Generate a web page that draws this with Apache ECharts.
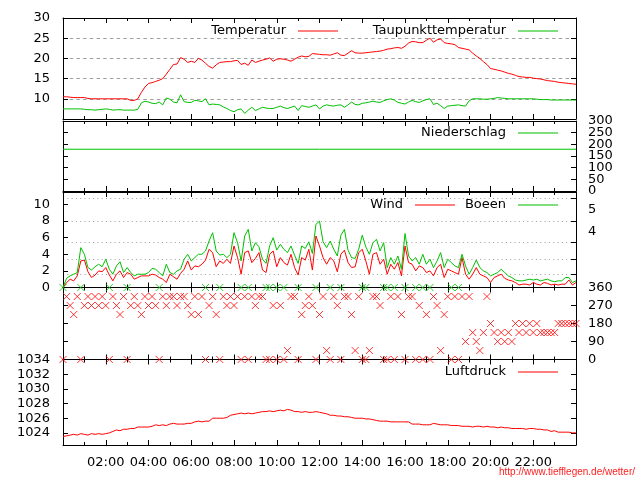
<!DOCTYPE html>
<html>
<head>
<meta charset="utf-8">
<script src="https://cdn.jsdelivr.net/npm/echarts@6/dist/echarts.min.js"></script>
<style>
html, body { margin: 0; padding: 0; background: #fff; }
#chart { width: 640px; height: 480px; }
</style>
</head>
<body>
<div id="chart"></div>
<script>
// one reading every 10 minutes, 00:00 .. 24:00
var stepMinutes = 10;
var timeTicks = [2, 4, 6, 8, 10, 12, 14, 16, 18, 20, 22];
var timeLabels = ['02:00', '04:00', '06:00', '08:00', '10:00', '12:00', '14:00', '16:00', '18:00', '20:00', '22:00'];

var temperatur = [
    10.5, 10.5, 10.4, 10.3, 10.3, 10.3, 10.3, 10.1, 10.0, 10.0,
    10.0, 10.0, 10.0, 10.0, 10.0, 10.0, 10.0, 10.0, 10.0, 9.6,
    9.6, 10.0, 11.6, 12.9, 13.8, 14.0, 14.3, 14.6, 15.0, 16.1,
    17.3, 18.5, 18.6, 20.2, 19.8, 19.0, 19.3, 19.0, 20.0, 19.6,
    18.8, 18.0, 17.6, 18.4, 19.0, 19.1, 19.2, 19.2, 19.4, 19.5,
    18.5, 18.8, 18.3, 19.6, 19.0, 19.3, 19.6, 19.8, 20.1, 19.3,
    19.8, 19.9, 19.8, 19.6, 19.3, 19.8, 20.3, 20.6, 20.4, 20.5,
    21.2, 21.1, 21.0, 20.9, 20.9, 20.8, 21.1, 21.4, 20.8, 20.7,
    21.3, 21.9, 21.4, 21.3, 21.3, 21.4, 21.5, 21.6, 21.7, 21.8,
    22.0, 22.3, 22.4, 22.6, 22.7, 22.5, 23.0, 23.8, 24.2, 24.1,
    23.9, 23.9, 24.5, 25.0, 24.0, 24.6, 24.8, 23.9, 23.7, 23.6,
    23.4, 22.7, 22.5, 22.3, 22.1, 21.3, 20.6, 20.0, 19.2, 18.5,
    17.5, 17.3, 17.1, 16.9, 16.6, 16.3, 16.1, 15.8, 15.5, 15.4,
    15.3, 15.3, 15.1, 15.0, 14.9, 14.7, 14.5, 14.4, 14.3, 14.1,
    14.0, 13.9, 13.8, 13.7, 13.6
];
var taupunkt = [
    7.5, 7.5, 7.5, 7.5, 7.5, 7.5, 7.4, 7.3, 7.3, 7.2,
    7.3, 7.4, 7.5, 7.4, 7.2, 7.3, 7.3, 7.2, 7.2, 7.2,
    7.2, 7.4, 9.0, 9.4, 9.2, 8.9, 8.8, 9.2, 8.5, 10.2,
    9.9, 9.2, 9.0, 11.0, 9.3, 9.1, 9.1, 9.6, 9.5, 9.3,
    10.0, 8.5, 8.7, 8.6, 8.5, 8.0, 7.6, 7.1, 6.8, 7.3,
    7.5, 6.4, 7.2, 7.9, 7.1, 7.5, 7.9, 7.7, 7.6, 7.6,
    7.9, 8.2, 7.8, 7.6, 7.9, 8.2, 7.1, 8.3, 8.1, 7.9,
    8.2, 8.5, 7.5, 8.2, 8.5, 8.3, 8.2, 8.4, 8.5, 7.9,
    8.5, 9.2, 8.6, 8.5, 8.9, 9.0, 9.2, 9.4, 9.2, 9.1,
    9.5, 9.8, 10.0, 9.7, 9.1, 8.9, 8.7, 9.2, 9.6, 9.3,
    9.1, 9.5, 9.8, 10.0, 8.6, 8.9, 8.3, 7.6, 8.2, 8.3,
    8.4, 8.5, 8.3, 8.2, 9.5, 10.0, 10.0, 10.0, 9.9, 9.9,
    10.0, 10.1, 10.3, 10.2, 10.1, 10.0, 10.0, 10.0, 10.0, 10.0,
    10.0, 10.0, 10.0, 9.9, 9.8, 9.8, 9.8, 9.7, 9.7, 9.7,
    9.7, 9.7, 9.7, 9.7, 9.7
];
var niederschlagHours = [0, 24];
var niederschlag = [179, 179];
var regenLabelsA = [0, 100, 200, 300];
var regenLabelsB = [50, 150, 250];

var wind = [
    0, 0.6, 1.0, 0.8, 1.4, 3.2, 3.3, 1.9, 1.2, 1.5,
    2.0, 1.9, 2.4, 1.5, 0.8, 1.6, 2.0, 1.2, 1.8, 1.6,
    1.0, 1.2, 1.4, 1.4, 1.4, 1.6, 1.5, 1.2, 1.0, 0.6,
    1.6, 1.3, 1.0, 1.7, 2.2, 3.2, 2.1, 2.6, 2.5, 2.8,
    3.3, 4.6, 4.2, 2.5, 3.2, 2.9, 3.4, 2.9, 5.0, 3.6,
    1.6, 4.2, 4.4, 3.0, 3.5, 4.2, 2.1, 1.8, 4.0, 4.4,
    2.5, 3.6, 3.0, 2.7, 4.0, 2.4, 1.5, 3.6, 3.3, 4.6,
    2.1, 6.2, 5.0, 3.6, 2.8, 3.6, 3.2, 1.9, 4.0, 4.5,
    3.0, 2.4, 2.5, 4.2, 4.6, 3.2, 1.6, 4.0, 4.2, 2.8,
    3.4, 1.6, 2.8, 2.2, 3.0, 1.4, 5.0, 3.0, 2.8, 2.0,
    2.6, 2.4, 1.8, 2.0, 1.4, 2.4, 2.8, 1.2, 2.2, 2.0,
    1.8, 1.6, 3.6, 1.6, 1.0, 1.6, 2.4, 1.6, 1.4, 1.2,
    0.6, 1.2, 1.4, 1.6, 1.1, 0.9, 0.8, 0.6, 0.3, 0.4,
    0.4, 0.3, 0.6, 0.4, 0.3, 0.6, 0.5, 0.3, 0.4, 0.3,
    0.4, 0.4, 0.9, 0.3, 0.6
];
var boeen = [
    0, 1.1, 1.4, 1.6, 1.8, 4.8, 4.0, 2.4, 2.1, 2.5,
    2.8, 2.5, 3.4, 2.2, 1.6, 2.6, 3.1, 1.8, 2.4, 1.8,
    1.4, 1.6, 1.6, 1.6, 1.8, 2.3, 2.2, 1.8, 1.4, 2.8,
    1.8, 1.6, 2.0, 2.2, 3.4, 4.0, 3.2, 3.6, 4.0, 4.0,
    4.4, 5.6, 6.6, 4.4, 3.9, 4.0, 3.6, 4.0, 6.6, 5.4,
    3.2, 6.2, 7.0, 4.4, 5.4, 4.9, 3.4, 2.9, 5.0, 6.0,
    4.5, 5.2, 4.6, 4.2, 5.0, 3.9, 2.9, 5.0, 4.7, 5.5,
    4.1, 7.6, 8.0, 5.5, 4.8, 5.6, 4.6, 3.8, 6.3, 7.0,
    4.5, 3.6, 3.5, 4.6, 6.3, 4.9, 4.0, 5.4, 5.8, 4.4,
    5.4, 2.4, 3.6, 2.8, 3.8, 2.2, 6.5, 3.8, 3.2, 3.6,
    2.8, 4.0, 2.8, 3.4, 2.4, 3.2, 4.2, 2.4, 3.4, 3.0,
    2.6, 2.4, 4.0, 2.6, 1.6, 2.4, 3.3, 2.4, 2.0, 1.8,
    1.4, 1.6, 1.8, 2.2, 1.8, 1.4, 1.2, 0.9, 0.8, 0.8,
    0.9, 1.0, 0.9, 1.0, 0.8, 0.9, 1.0, 0.8, 0.7, 0.8,
    0.8, 1.2, 1.2, 0.6, 0.8
];
// Beaufort limits (m/s) for the right wind axis
var beaufortLimits = [1.6, 3.4, 5.5, 8.0, 10.8];
var beaufortLabelPos = [6.7, 9.35];
var beaufortLabels = ['4', '5'];

// wind direction in degrees (north drawn at 0)
var windRichtung = [
    0, 315, 270, 225, 315, 0, 270, 315, 270, 315,
    270, 315, 270, 0, 315, 270, 225, 315, 0, 270,
    315, 270, 225, 315, 270, 315, 270, 0, 315, 270,
    315, 315, 270, 315, 315, 270, 225, 315, 225, 315,
    0, 270, 315, 225, 0, 315, 270, 315, 270, 315,
    0, 315, 0, 315, 270, 315, 315, 0, 0, 270,
    0, 270, 0, 45, 315, 315, 0, 225, 270, 315,
    270, 0, 225, 315, 45, 0, 315, 270, 0, 315,
    315, 225, 45, 315, 0, 0, 45, 315, 315, 270,
    0, 0, 315, 0, 315, 225, 0, 315, 315, 0,
    270, 0, 225, 0, 315, 270, 45, 225, 315, 0,
    315, 0, 315, 90, 315, 135, 90, 45, 135, 315,
    180, 135, 90, 135, 90, 135, 90, 180, 135, 180,
    135, 180, 135, 180, 135, 135, 135, 135, 135, 180,
    180, 180, 180, 180, 180
];
// gust direction where it is north (drawn at 360); other gust directions lie under the wind marks
var boeenNord = [
    360, null, null, null, null, 360, null, null, null, null,
    null, null, null, 360, null, null, null, null, 360, null,
    null, null, null, null, null, null, null, 360, null, null,
    null, null, null, null, null, null, null, null, null, null,
    360, null, null, null, 360, null, null, null, null, null,
    360, null, 360, null, null, null, null, 360, 360, null,
    360, null, 360, null, null, null, 360, null, null, null,
    null, 360, null, null, null, 360, null, null, 360, null,
    null, null, null, null, 360, 360, null, null, null, null,
    360, 360, null, 360, null, null, 360, null, null, 360,
    null, 360, null, 360, null, null, null, null, null, 360,
    null, 360, null, null, null, null, null, null, null, null,
    null, null, null, null, null, null, null, null, null, null,
    null, null, null, null, null, null, null, null, null, null,
    null, null, null, null, null
];

var luftdruck = [
    1023.5, 1023.6, 1023.7, 1023.8, 1023.7, 1023.9, 1023.8, 1023.7, 1023.9, 1023.8,
    1023.9, 1023.8, 1023.9, 1024.0, 1024.2, 1024.4, 1024.3, 1024.5, 1024.5, 1024.6,
    1024.6, 1024.8, 1024.8, 1024.8, 1024.8, 1024.9, 1025.1, 1025.0, 1025.1, 1025.0,
    1025.2, 1025.3, 1025.2, 1025.2, 1025.2, 1025.3, 1025.3, 1025.5, 1025.6, 1025.5,
    1025.6, 1025.6, 1026.0, 1026.0, 1026.0, 1026.0, 1026.1, 1026.4, 1026.5, 1026.6,
    1026.7, 1026.6, 1026.7, 1026.6, 1026.7, 1026.8, 1026.9, 1026.9, 1027.0, 1026.9,
    1027.0, 1027.1, 1027.0, 1027.2, 1027.1, 1026.9, 1026.9, 1026.8, 1026.9, 1026.8,
    1026.8, 1026.9, 1026.8, 1026.7, 1026.6, 1026.4, 1026.4, 1026.3, 1026.3, 1026.2,
    1026.2, 1026.1, 1026.0, 1026.0, 1026.0, 1025.9, 1025.9, 1025.8, 1025.7, 1025.6,
    1025.6, 1025.6, 1025.5, 1025.5, 1025.5, 1025.5, 1025.5, 1025.5, 1025.2, 1025.2,
    1025.2, 1025.1, 1025.1, 1025.1, 1025.3, 1025.2, 1025.1, 1025.1, 1025.1, 1025.0,
    1025.0, 1025.0, 1024.9, 1024.9, 1024.9, 1024.8, 1024.9, 1024.9, 1024.8, 1024.9,
    1024.8, 1024.8, 1024.7, 1024.8, 1024.7, 1024.7, 1024.6, 1024.6, 1024.6, 1024.6,
    1024.5, 1024.6, 1024.6, 1024.5, 1024.5, 1024.4, 1024.4, 1024.2, 1024.3, 1024.1,
    1024.1, 1024.1, 1024.1, 1024.0, 1024.0
];
var druckTicks = [1024, 1026, 1028, 1030, 1032, 1034];
var windTicks = [0, 2, 4, 6, 8, 10];

var RED = '#ff0000', GREEN = '#00c000', FONT = 'DejaVu Sans';
var labelStyle = { color: '#000', fontFamily: FONT, fontSize: 13 };

var chart = echarts.init(document.getElementById('chart'));

// panels: temperature, rain, wind, direction, pressure
var grids = [
    { left: 63, width: 513, top: 18, height: 101 },
    { left: 63, width: 513, top: 121, height: 70 },
    { left: 63, width: 513, top: 192, height: 95.5 },
    { left: 63, width: 513, top: 287.5, height: 72 },
    { left: 63, width: 513, top: 359.5, height: 85.5 }
];
grids.forEach(function (g) { g.containLabel = false; g.outerBoundsMode = 'none'; });

function plain(v) { return String(v); }

function xAxisFor(gridIndex, position, withLabels) {
    return {
        type: 'value', gridIndex: gridIndex, position: position,
        min: 0, max: 24, interval: 2,
        axisLine: { show: true, onZero: false, lineStyle: { color: '#000', width: 1 } },
        axisTick: { show: true, inside: true, length: 5, lineStyle: { color: '#000' } },
        minorTick: { show: true, splitNumber: 2, length: 3, lineStyle: { color: '#000' } },
        splitLine: { show: false },
        axisLabel: withLabels ? Object.assign({
            customValues: timeTicks, margin: 11,
            formatter: function (v) {
                var i = timeTicks.indexOf(v);
                return i >= 0 ? timeLabels[i] : '';
            }
        }, labelStyle) : { show: false }
    };
}

function yAxisFor(gridIndex, position, opts) {
    var axis = {
        type: 'value', gridIndex: gridIndex, position: position,
        axisLine: { show: true, onZero: false, lineStyle: { color: '#000', width: 1 } },
        axisTick: { show: true, inside: true, length: 5, lineStyle: { color: '#000' } },
        splitLine: { show: false },
        axisLabel: { show: false }
    };
    return Object.assign(axis, opts);
}

function labels(extra) {
    return Object.assign({ formatter: plain, showMinLabel: true, showMaxLabel: true, hideOverlap: false }, labelStyle, extra);
}

var xAxes = [];
for (var g = 0; g < 5; g++) {
    xAxes.push(xAxisFor(g, 'bottom', g === 4));
    xAxes.push(xAxisFor(g, 'top', false));
}

var dashed = { show: true, lineStyle: { color: '#a0a0a0', type: [3.5, 3.2], width: 1 } };
var dotted = { show: true, lineStyle: { color: '#a0a0a0', type: [1, 3.3], width: 1 } };

var yAxes = [
    // 0,1 temperature
    yAxisFor(0, 'left', { min: 5, max: 30, interval: 5, splitLine: dashed,
        axisLabel: labels({ showMinLabel: false, margin: 13 }) }),
    yAxisFor(0, 'right', { min: 5, max: 30, interval: 5 }),
    // 2,3 rain
    yAxisFor(1, 'left', { min: 0, max: 300, interval: 50 }),
    yAxisFor(1, 'right', { min: 0, max: 300, interval: 50,
        axisLabel: labels({ customValues: regenLabelsA, margin: 12 }) }),
    // 4,5 wind
    yAxisFor(2, 'left', { min: 0, max: 11.5,
        axisTick: { show: true, inside: true, length: 5, customValues: windTicks, lineStyle: { color: '#000' } },
        axisLabel: labels({ customValues: windTicks, margin: 13 }) }),
    yAxisFor(2, 'right', { min: 0, max: 11.5, splitLine: dotted,
        axisTick: { show: true, inside: true, length: 5, customValues: beaufortLimits, lineStyle: { color: '#000' } },
        axisLabel: labels({
            customValues: beaufortLabelPos, margin: 12,
            formatter: function (v) {
                var i = beaufortLabelPos.indexOf(v);
                return i >= 0 ? beaufortLabels[i] : '';
            }
        }) }),
    // 6,7 direction
    yAxisFor(3, 'left', { min: 0, max: 360, interval: 90 }),
    yAxisFor(3, 'right', { min: 0, max: 360, interval: 90,
        axisLabel: labels({ margin: 12 }) }),
    // 8,9 pressure
    yAxisFor(4, 'left', { min: 1022.35, max: 1034,
        axisTick: { show: true, inside: true, length: 5, customValues: druckTicks, lineStyle: { color: '#000' } },
        axisLabel: labels({ customValues: druckTicks, margin: 13 }) }),
    yAxisFor(4, 'right', { min: 1022.35, max: 1034,
        axisTick: { show: true, inside: true, length: 5, customValues: druckTicks, lineStyle: { color: '#000' } } }),
    // 10: in-between rain labels, on a second right axis so none get dropped
    yAxisFor(1, 'right', { min: 0, max: 300, offset: 0,
        axisLine: { show: false }, axisTick: { show: false },
        axisLabel: labels({ customValues: regenLabelsB, margin: 12 }) })
];

function timeData(values) {
    return values.map(function (v, i) { return [i * stepMinutes / 60, v]; });
}

function lineSeries(name, xi, yi, data, color) {
    return {
        name: name, type: 'line', xAxisIndex: xi, yAxisIndex: yi,
        data: data, showSymbol: false, symbol: 'none',
        lineStyle: { color: color, width: 1 }, itemStyle: { color: color },
        silent: true, animation: false
    };
}

var crossSymbol = 'path://M0,0L10,10M10,0L0,10';
function crossSeries(name, data, color) {
    return {
        name: name, type: 'scatter', xAxisIndex: 6, yAxisIndex: 7,
        data: data, symbol: crossSymbol, symbolSize: 7, clip: false,
        itemStyle: { color: 'none', borderColor: color, borderWidth: 1 },
        silent: true, animation: false
    };
}

function legendFor(name, right, top) {
    return {
        data: [name], right: right, top: top, align: 'right',
        icon: 'rect', itemWidth: 40, itemHeight: 1.2, selectedMode: false,
        padding: 0,
        textStyle: { color: '#000', fontFamily: FONT, fontSize: 13, lineHeight: 14, padding: [0, 7, 0, 0] }
    };
}

var option = {
    animation: false,
    backgroundColor: '#fff',
    textStyle: { fontFamily: FONT },
    title: {
        text: 'http://www.tiefflegen.de/wetter/',
        right: 5, bottom: 3, padding: 0,
        textStyle: { color: '#ff2020', fontFamily: 'Liberation Sans', fontSize: 10, fontWeight: 'normal' }
    },
    legend: [
        legendFor('Temperatur', 302, 24),
        legendFor('Taupunkttemperatur', 82, 24),
        legendFor('Niederschlag', 82, 126),
        legendFor('Wind', 185, 198),
        legendFor('Boeen', 82, 198),
        legendFor('Luftdruck', 82, 365)
    ],
    grid: grids,
    xAxis: xAxes,
    yAxis: yAxes,
    series: [
        lineSeries('Temperatur', 0, 0, timeData(temperatur), RED),
        lineSeries('Taupunkttemperatur', 0, 0, timeData(taupunkt), GREEN),
        lineSeries('Niederschlag', 2, 3, niederschlagHours.map(function (h, i) { return [h, niederschlag[i]]; }), GREEN),
        lineSeries('Wind', 4, 4, timeData(wind), RED),
        lineSeries('Boeen', 4, 4, timeData(boeen), GREEN),
        crossSeries('Boeenrichtung', timeData(boeenNord), GREEN),
        crossSeries('Windrichtung', timeData(windRichtung), RED),
        lineSeries('Luftdruck', 8, 8, timeData(luftdruck), RED)
    ]
};
chart.setOption(option);
</script>
</body>
</html>
